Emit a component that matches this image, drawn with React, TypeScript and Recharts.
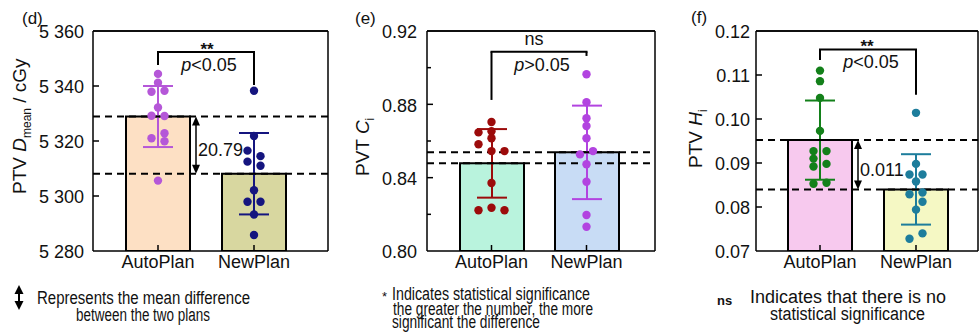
import React from "react";
import {
  ComposedChart,
  Bar,
  Cell,
  ErrorBar,
  Scatter,
  XAxis,
  YAxis,
  ReferenceLine,
  CartesianGrid,
} from "recharts";

const FONT = "'Liberation Sans', Arial, Helvetica, sans-serif";
const categories = ["AutoPlan", "NewPlan"];

// (d) PTV Dmean / cGy
const dmeanMeans = [5328.9, 5308.1];
const dmeanSd = [11.1, 14.8];
const dmeanAuto = [5344.4, 5341.2, 5337.9, 5338.3, 5332.2, 5329.2, 5329.1, 5321.0, 5322.8, 5319.9, 5305.6];
const dmeanAutoCol = [0, 0, -1, 1, 0, -1, 1, -1, 1, 1, 0];
const dmeanNew = [5338.3, 5321.8, 5316.5, 5314.5, 5312.5, 5311.0, 5302.1, 5297.9, 5297.9, 5293.3, 5285.8];
const dmeanNewCol = [0, 0, -1, 1, -1, 1, 0, -1, 1, 0, 0];
const dmeanTicks = [5280, 5300, 5320, 5340, 5360];

// (e) PVT Ci
const ciMeans = [0.8478, 0.8538];
const ciSd = [0.0187, 0.0255];
const ciAuto = [0.8704, 0.8647, 0.8653, 0.8615, 0.8582, 0.8545, 0.8545, 0.8371, 0.8222, 0.8236, 0.8222];
const ciAutoCol = [0, -2, 0, 0, -2, 0, 2, 0, -2, 0, 2];
const ciNew = [0.8964, 0.8811, 0.8724, 0.8682, 0.8615, 0.8527, 0.8545, 0.8473, 0.8378, 0.8196, 0.8132];
const ciNewCol = [0, 0, 0, 0, 0, -1, 1, 0, 0, 0, 0];
const ciTicks = [0.8, 0.82, 0.84, 0.86, 0.88, 0.9, 0.92];

// (f) PTV Hi
const hiMeans = [0.0952, 0.084];
const hiSd = [0.009, 0.008];
const hiAuto = [0.111, 0.1086, 0.1048, 0.0973, 0.0927, 0.0927, 0.091, 0.0892, 0.0898, 0.0853, 0.0855];
const hiAutoCol = [0, 0, 0, 0, -1, 1, -1, -1, 1, -1, 1];
const hiNew = [0.1014, 0.0898, 0.0874, 0.0874, 0.0858, 0.0829, 0.0833, 0.0812, 0.0794, 0.074, 0.0728];
const hiNewCol = [0, 0, -1, 1, 0, -1, 1, 1, 0, 1, -1];
const hiTicks = [0.07, 0.08, 0.09, 0.1, 0.11, 0.12];

const fmtGy = (v: number) => `${Math.floor(v / 1000)} ${String(v % 1000).padStart(3, "0")}`;
const fmt2 = (v: number) => v.toFixed(2);

const CHART_H = 290;
const TOP = 31;
const XAXIS_H = 39;

// panel placement: left edge, width, right margin, y-axis width
const boxes = [
  { left: 0, width: 330, right: 2, yWidth: 93 },
  { left: 330, width: 330, right: 5, yWidth: 97 },
  { left: 660, width: 319, right: 1, yWidth: 96 },
];

type PanelProps = {
  box: { left: number; width: number; right: number; yWidth: number };
  labelGap: number;
  pad: { left: number; right: number };
  domain: [number, number];
  ticks: number[];
  fmt: (v: number) => string;
  labelEvery: number;
  means: number[];
  sd: number[];
  auto: number[];
  autoCol: number[];
  newer: number[];
  newCol: number[];
  fills: string[];
  dots: string[];
  jitter: number;
  bracket: number[]; // top, left leg end, right leg end
  sig: string;
  sigDx: number;
  sigDy: number;
  p: string;
  diff?: string;
};

function YTick(props: any) {
  const { x, y, payload, index, gap, fmt, labelEvery, domain } = props;
  const v = payload.value as number;
  const ax = x + gap;
  const isEnd = Math.abs(v - domain[0]) < 1e-9 || Math.abs(v - domain[1]) < 1e-9;
  const major = index % labelEvery === 0;
  return (
    <g>
      {!isEnd && (
        <line x1={ax} x2={ax + (major ? 6 : 4)} y1={y} y2={y} stroke="#000" strokeWidth={1.5} />
      )}
      {major && (
        <text x={x} y={y} dy="0.4em" textAnchor="end" fontSize={18} fill="#111" fontFamily={FONT}>
          {fmt(v)}
        </text>
      )}
    </g>
  );
}

function XTick(props: any) {
  const { x, y, payload } = props;
  return (
    <g>
      <line x1={x} x2={x} y1={y} y2={y - 6} stroke="#000" strokeWidth={1.5} />
      <text x={x} y={y + 17} textAnchor="middle" fontSize={18} fill="#111" fontFamily={FONT}>
        {payload.value}
      </text>
    </g>
  );
}

function Panel(p: PanelProps) {
  const rows = categories.map((name, i) => ({
    name,
    mean: p.means[i],
    sdA: i === 0 ? p.sd[0] : undefined,
    sdB: i === 1 ? p.sd[1] : undefined,
  }));
  const autoPts = p.auto.map((y, i) => ({ name: categories[0], y, col: p.autoCol[i] }));
  const newPts = p.newer.map((y, i) => ({ name: categories[1], y, col: p.newCol[i] }));
  const dot = (color: string) => (s: any) => (
    <circle cx={s.cx + s.payload.col * p.jitter} cy={s.cy} r={4.2} fill={color} />
  );
  const axisLine = { stroke: "#000", strokeWidth: 1.5 };

  return (
    <div style={{ position: "absolute", left: p.box.left, top: 0 }}>
      <ComposedChart
        width={p.box.width}
        height={CHART_H}
        data={rows}
        margin={{ top: TOP, right: p.box.right, bottom: 0, left: 0 }}
      >
        {/* closes the frame: one line along the top, one down the right side */}
        <CartesianGrid
          stroke="#000"
          strokeWidth={1.5}
          strokeDasharray="0"
          horizontalCoordinatesGenerator={({ offset }: any) => [offset.top]}
          verticalCoordinatesGenerator={({ offset }: any) => [offset.left + offset.width]}
        />
        <XAxis
          dataKey="name"
          type="category"
          allowDuplicatedCategory={false}
          padding={p.pad}
          height={XAXIS_H}
          interval={0}
          tickSize={0}
          tickMargin={0}
          tickLine={false}
          axisLine={axisLine}
          tick={(t: any) => <XTick {...t} />}
        />
        <YAxis
          type="number"
          domain={p.domain}
          ticks={p.ticks}
          allowDataOverflow
          interval={0}
          width={p.box.yWidth}
          tickSize={0}
          tickMargin={p.labelGap}
          tickLine={false}
          axisLine={axisLine}
          tick={(t: any) => (
            <YTick {...t} gap={p.labelGap} fmt={p.fmt} labelEvery={p.labelEvery} domain={p.domain} />
          )}
        />
        <Bar dataKey="mean" barSize={64} stroke="#000" strokeWidth={2} isAnimationActive={false}>
          {rows.map((r, i) => (
            <Cell key={r.name} fill={p.fills[i]} />
          ))}
          <ErrorBar dataKey="sdA" direction="y" width={15} strokeWidth={2} stroke={p.dots[0]} isAnimationActive={false} />
          <ErrorBar dataKey="sdB" direction="y" width={15} strokeWidth={2} stroke={p.dots[1]} isAnimationActive={false} />
        </Bar>
        <ReferenceLine y={p.domain[1]} stroke="#000" strokeWidth={1.5} ifOverflow="extendDomain" />
        {p.means.map((m, i) => (
          <ReferenceLine key={i} y={m} stroke="#000" strokeWidth={2} strokeDasharray="7 5" />
        ))}
        <ReferenceLine
          segment={[
            { x: categories[0], y: p.bracket[0] },
            { x: categories[0], y: p.bracket[1] },
          ]}
          stroke="#000"
          strokeWidth={2}
        />
        <ReferenceLine
          segment={[
            { x: categories[1], y: p.bracket[0] },
            { x: categories[1], y: p.bracket[2] },
          ]}
          stroke="#000"
          strokeWidth={2}
        />
        <ReferenceLine
          segment={[
            { x: categories[0], y: p.bracket[0] },
            { x: categories[1], y: p.bracket[0] },
          ]}
          shape={(s: any) => {
            const mid = (s.x1 + s.x2) / 2;
            return (
              <g fontFamily={FONT} fill="#111">
                <line x1={s.x1 - 1} x2={s.x2 + 1} y1={s.y1} y2={s.y2} stroke="#000" strokeWidth={2} />
                <text
                  x={mid + p.sigDx}
                  y={s.y1 + p.sigDy}
                  textAnchor="middle"
                  fontSize={p.sig === "ns" ? 18 : 17}
                  fontWeight={p.sig === "ns" ? 400 : 700}
                >
                  {p.sig}
                </text>
                <text x={mid + 3} y={s.y1 + 19} textAnchor="middle" fontSize={18}>
                  <tspan fontStyle="italic">p</tspan>
                  {p.p}
                </text>
              </g>
            );
          }}
        />
        {p.diff && (
          <ReferenceLine
            segment={[
              { x: categories[0], y: p.means[0] },
              { x: categories[0], y: p.means[1] },
            ]}
            shape={(s: any) => {
              const ax = s.x1 + 38;
              const top = Math.min(s.y1, s.y2);
              const bot = Math.max(s.y1, s.y2);
              return (
                <g>
                  <line x1={ax} x2={ax} y1={top + 6} y2={bot - 6} stroke="#000" strokeWidth={1.5} />
                  <polygon points={`${ax},${top} ${ax - 4},${top + 9} ${ax + 4},${top + 9}`} fill="#000" />
                  <polygon points={`${ax},${bot} ${ax - 4},${bot - 9} ${ax + 4},${bot - 9}`} fill="#000" />
                  <text x={ax + 2} y={(top + bot) / 2 + 11} fontSize={18} fill="#111" fontFamily={FONT}>
                    {p.diff}
                  </text>
                </g>
              );
            }}
          />
        )}
        <Scatter data={autoPts} dataKey="y" shape={dot(p.dots[0])} isAnimationActive={false} />
        <Scatter data={newPts} dataKey="y" shape={dot(p.dots[1])} isAnimationActive={false} />
      </ComposedChart>
    </div>
  );
}

function Texts() {
  const t = { fontFamily: FONT, fill: "#111" };
  return (
    <svg
      width={979}
      height={332}
      style={{ position: "absolute", left: 0, top: 0, pointerEvents: "none", zIndex: 2 }}
    >
      <g {...t}>
        <text x={22} y={24} fontSize={17}>(d)</text>
        <text x={355} y={24} fontSize={17}>(e)</text>
        <text x={691} y={23} fontSize={17}>(f)</text>

        <text transform="translate(26,194) rotate(-90)" fontSize={19}>
          PTV <tspan fontStyle="italic">D</tspan>
          <tspan fontSize={12} dy={5}>mean</tspan>
          <tspan dy={-5}> / cGy</tspan>
        </text>
        <text transform="translate(369,176) rotate(-90)" fontSize={19}>
          PVT <tspan fontStyle="italic">C</tspan>
          <tspan fontSize={12} dy={5}>i</tspan>
        </text>
        <text transform="translate(702,168) rotate(-90)" fontSize={19}>
          PTV <tspan fontStyle="italic">H</tspan>
          <tspan fontSize={12} dy={5}>i</tspan>
        </text>

        <line x1={19} y1={292} x2={19} y2={303} stroke="#000" strokeWidth={2} />
        <polygon points="19,285 14.5,294 23.5,294" fill="#000" />
        <polygon points="19,310 14.5,301 23.5,301" fill="#000" />
        <text x={37} y={304} fontSize={18} textLength={213} lengthAdjust="spacingAndGlyphs">
          Represents the mean difference
        </text>
        <text x={76} y={321} fontSize={18} textLength={134} lengthAdjust="spacingAndGlyphs">
          between the two plans
        </text>

        <text x={382} y={301} fontSize={13}>*</text>
        <text x={392} y={300} fontSize={18} textLength={198} lengthAdjust="spacingAndGlyphs">
          Indicates statistical significance
        </text>
        <text x={393} y={315} fontSize={18} textLength={200} lengthAdjust="spacingAndGlyphs">
          the greater the number, the more
        </text>
        <text x={392} y={328} fontSize={18} textLength={148} lengthAdjust="spacingAndGlyphs">
          significant the difference
        </text>

        <text x={717} y={305} fontSize={13} fontWeight={700}>ns</text>
        <text x={750} y={303} fontSize={18} textLength={196} lengthAdjust="spacingAndGlyphs">
          Indicates that there is no
        </text>
        <text x={770} y={320} fontSize={18} textLength={155} lengthAdjust="spacingAndGlyphs">
          statistical significance
        </text>
      </g>
    </svg>
  );
}

export default function App() {
  return (
    <div
      style={{
        position: "absolute",
        left: 0,
        top: 0,
        width: 979,
        height: 332,
        background: "#fff",
        overflow: "hidden",
        fontFamily: FONT,
      }}
    >
      <Panel
        box={boxes[0]}
        labelGap={9}
        pad={{ left: 17, right: 26 }}
        domain={[5280, 5360]}
        ticks={dmeanTicks}
        fmt={fmtGy}
        labelEvery={1}
        means={dmeanMeans}
        sd={dmeanSd}
        auto={dmeanAuto}
        autoCol={dmeanAutoCol}
        newer={dmeanNew}
        newCol={dmeanNewCol}
        fills={["#fde0c4", "#d8d7a0"]}
        dots={["#b557d8", "#15157f"]}
        jitter={6.5}
        bracket={[5352.4, 5347.6, 5340.4]}
        sig="**"
        sigDx={1}
        sigDy={3}
        p="<0.05"
        diff="20.79"
      />
      <Panel
        box={boxes[1]}
        labelGap={10}
        pad={{ left: 17, right: 21 }}
        domain={[0.8, 0.92]}
        ticks={ciTicks}
        fmt={fmt2}
        labelEvery={2}
        means={ciMeans}
        sd={ciSd}
        auto={ciAuto}
        autoCol={ciAutoCol}
        newer={ciNew}
        newCol={ciNewCol}
        fills={["#b9f3dd", "#c8dcf5"]}
        dots={["#9c0b0b", "#b244e0"]}
        jitter={6.5}
        bracket={[0.9087, 0.8824, 0.9064]}
        sig="ns"
        sigDx={-5}
        sigDy={-7}
        p=">0.05"
      />
      <Panel
        box={boxes[2]}
        labelGap={6}
        pad={{ left: 16, right: 14 }}
        domain={[0.07, 0.12]}
        ticks={hiTicks}
        fmt={fmt2}
        labelEvery={1}
        means={hiMeans}
        sd={hiSd}
        auto={hiAuto}
        autoCol={hiAutoCol}
        newer={hiNew}
        newCol={hiNewCol}
        fills={["#f7c9ee", "#f5f8c4"]}
        dots={["#13801a", "#1d7d9c"]}
        jitter={6.5}
        bracket={[0.1158, 0.1134, 0.1055]}
        sig="**"
        sigDx={-1}
        sigDy={3}
        p="<0.05"
        diff="0.011"
      />
      <Texts />
    </div>
  );
}
